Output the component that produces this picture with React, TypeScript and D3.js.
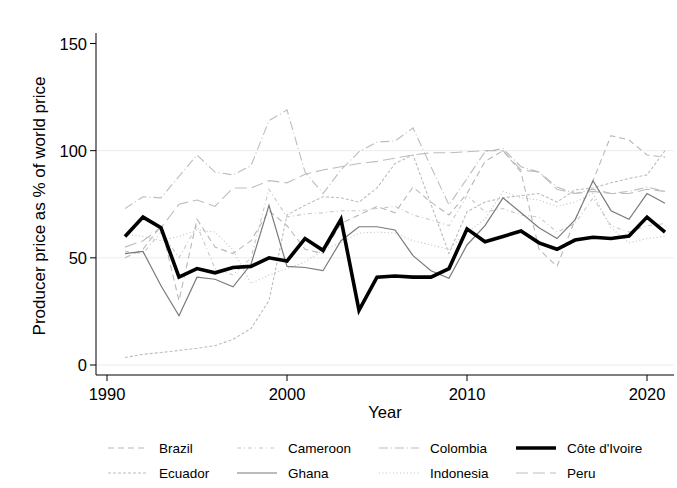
import React from "react";
import * as d3 from "d3";

const years = d3.range(1991, 2022);
const brazil = [50, 54, 65, 30, 68, 55, 52, 58, 72, 65, 54, 52, 66, 70, 74, 71, 83, 76, 70, 80, 95, 100, 90, 54, 46, 67.7, 86, 107, 105, 98, 97];
const cameroon = [53, 52, 62, 50, 65, 45, 42, 50, 82, 69, 70.5, 71, 72, 72, 73, 74, 70, 67.7, 65, 79, 71.5, 73, 70, 69, 62, 66, 78, 65, 62, 65, 66];
const colombia = [73, 78.5, 78, 88, 98, 90, 88.7, 93, 114, 119, 90, 80, 91, 99.5, 104, 104.5, 110.6, 92.5, 74.7, 87, 99.5, 101, 92.5, 90, 83, 80, 82, 80, 81, 83, 81];
const civ = [60, 69, 64, 41, 45, 43, 45.5, 46, 50, 48.5, 59, 53.5, 68, 25.5, 41, 41.5, 41, 41, 45, 63.5, 57.5, 60, 62.5, 57, 54, 58.3, 59.6, 59, 60.2, 69, 62];
const ecuador = [3.5, 5, 5.8, 6.8, 7.8, 9, 12, 17, 30, 70, 74.5, 78.5, 78, 76, 82.6, 94, 98, 75, 52, 71.5, 76, 78, 79, 80, 76, 81.7, 82.6, 85, 87, 88.7, 100];
const ghana = [52, 53, 37, 23, 41, 40, 36.5, 47, 74.5, 46, 45.5, 44, 58, 64.5, 64.5, 63, 51, 44, 40.5, 56, 65, 78, 71, 64, 59, 67.7, 86, 72, 68, 80, 75.5];
const indonesia = [61, 60, 58, 60, 63, 62, 53.7, 38, 42, 45, 48, 53.7, 57, 61.6, 62, 61.6, 58, 56, 54, 62, 68, 81, 78, 77, 74, 76, 80, 64, 57, 59, 60];
const peru = [55, 58, 64, 75, 77, 74, 82.6, 82.6, 86, 85, 89, 91, 92.5, 94, 95, 96.5, 98, 99, 99, 99.5, 100, 100, 91, 90, 82, 80, 81, 80, 80, 82, 81];

const xTicks = [1990, 2000, 2010, 2020];
const yTicks = [0, 50, 100, 150];
const gridTicks = [0, 50, 100];

const seriesNames = ["Brazil", "Cameroon", "Colombia", "Côte d'Ivoire", "Ecuador", "Ghana", "Indonesia", "Peru"];
const seriesValues = [brazil, cameroon, colombia, civ, ecuador, ghana, indonesia, peru];
const styles = [
  { stroke: "#b8b8b8", width: 1.1, dash: "6,4" },
  { stroke: "#c8c8c8", width: 1.1, dash: "4,3,1,3" },
  { stroke: "#bdbdbd", width: 1.1, dash: "9,3,1,3" },
  { stroke: "#000000", width: 3.6, dash: "" },
  { stroke: "#bdbdbd", width: 1.1, dash: "3,2" },
  { stroke: "#7a7a7a", width: 1.2, dash: "" },
  { stroke: "#c0c0c0", width: 1.1, dash: "1,2.5" },
  { stroke: "#bdbdbd", width: 1.1, dash: "12,5" },
];
// draw order: light ones first, CIV last
const drawOrder = [7, 6, 4, 2, 1, 0, 5, 3];

const FONT = "'Liberation Sans', Arial, sans-serif";

export default function App() {
  const W = 677, H = 488;
  const x = d3.scaleLinear().domain([1990, 2020]).range([107, 647]);
  const y = d3.scaleLinear().domain([0, 150]).range([365, 43.5]);
  const plotLeft = 96, plotRight = 674, axisY = 375, axisTop = 33;
  const line = d3.line<number>().x((_, i) => x(years[i])).y((d) => y(d));

  const legendCols = [108, 237, 379, 516];
  const legendRows = [448, 473];

  return (
    <svg width={W} height={H} style={{ position: "absolute", left: 0, top: 0, background: "#fff" }} fontFamily={FONT}>
      {gridTicks.map((t) => (
        <line key={t} x1={plotLeft} x2={plotRight} y1={y(t)} y2={y(t)} stroke="#e6eef1" strokeWidth={1} />
      ))}
      {drawOrder.map((k) => (
        <path key={k} d={line(seriesValues[k]) || ""} fill="none" stroke={styles[k].stroke}
          strokeWidth={styles[k].width} strokeDasharray={styles[k].dash || undefined} strokeLinejoin="miter" />
      ))}
      {/* y axis */}
      <line x1={plotLeft} x2={plotLeft} y1={axisTop} y2={axisY} stroke="#000" strokeWidth={1} />
      {yTicks.map((t) => (
        <g key={t}>
          <line x1={plotLeft - 6} x2={plotLeft} y1={y(t)} y2={y(t)} stroke="#000" strokeWidth={1} />
          <text x={plotLeft - 9} y={y(t) + 6} textAnchor="end" fontSize={16.5} fill="#000">{t}</text>
        </g>
      ))}
      {/* x axis */}
      <line x1={plotLeft} x2={plotRight} y1={axisY} y2={axisY} stroke="#000" strokeWidth={1} />
      {xTicks.map((t) => (
        <g key={t}>
          <line x1={x(t)} x2={x(t)} y1={axisY} y2={axisY + 6} stroke="#000" strokeWidth={1} />
          <text x={x(t)} y={400} textAnchor="middle" fontSize={16.5} fill="#000">{t}</text>
        </g>
      ))}
      <text x={(plotLeft + plotRight) / 2} y={418} textAnchor="middle" fontSize={16.5} fill="#000">Year</text>
      <text transform={`translate(45, ${(axisTop + axisY) / 2 + 2}) rotate(-90)`} textAnchor="middle" fontSize={17} fill="#000">
        Producer price as % of world price
      </text>
      {/* legend */}
      {seriesNames.map((name, i) => {
        const col = legendCols[i % 4];
        const row = legendRows[Math.floor(i / 4)];
        const s = styles[i];
        return (
          <g key={name}>
            <line x1={col} x2={col + 40} y1={row} y2={row} stroke={s.stroke} strokeWidth={s.width}
              strokeDasharray={s.dash || undefined} />
            <text x={col + 51} y={row + 5} fontSize={13.5} fill="#000">{name}</text>
          </g>
        );
      })}
    </svg>
  );
}
